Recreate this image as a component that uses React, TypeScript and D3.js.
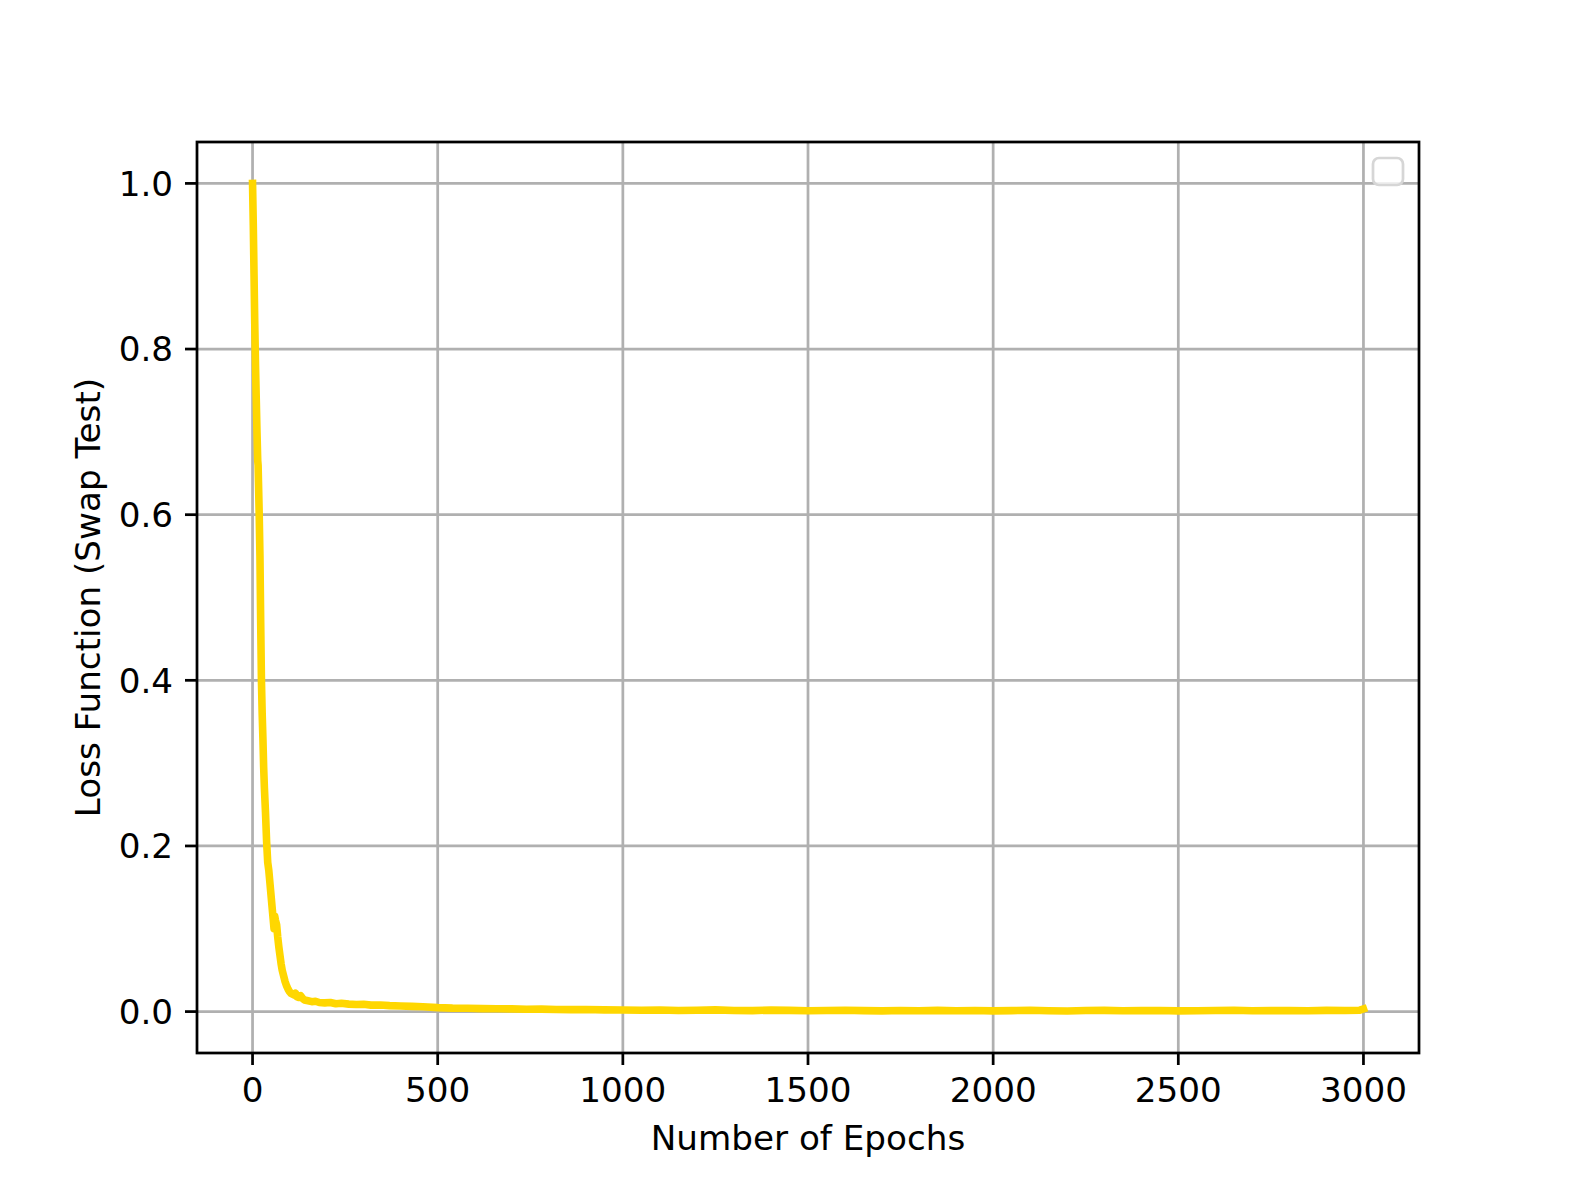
import * as d3 from 'd3';

// loss curve (epoch, swap-test loss)
const epochs = [
  0, 2, 4, 6, 8, 10, 12, 14, 15, 16, 18, 20, 22, 24, 26, 28, 30, 32, 35, 38, 41, 44, 47, 50,
  53, 56, 58, 60, 62, 65, 68, 71, 74, 77, 80, 84, 88, 92, 96, 100, 104, 108, 112, 116, 120,
  125, 130, 135, 140, 150, 160, 170, 180, 195, 210, 225, 240, 260, 280, 300, 320, 345, 370,
  400, 430, 460, 500, 540, 580, 620, 660, 700, 740, 780, 820, 860, 900, 950, 1000, 1050,
  1100, 1150, 1200, 1250, 1300, 1350, 1400, 1450, 1500, 1550, 1600, 1650, 1700, 1750, 1800,
  1850, 1900, 1950, 2000, 2050, 2100, 2150, 2200, 2250, 2300, 2350, 2400, 2450, 2500, 2550,
  2600, 2650, 2700, 2750, 2800, 2850, 2900, 2950, 2990, 3000,
];
const loss = [
  1.0, 0.95, 0.89, 0.83, 0.78, 0.74, 0.7, 0.665, 0.66, 0.64, 0.6, 0.55, 0.47, 0.4, 0.36, 0.33,
  0.295, 0.27, 0.24, 0.205, 0.18, 0.17, 0.155, 0.14, 0.125, 0.11, 0.1, 0.115, 0.11, 0.105,
  0.09, 0.078, 0.068, 0.058, 0.05, 0.043, 0.036, 0.031, 0.027, 0.024, 0.022, 0.021, 0.02,
  0.022, 0.018, 0.017, 0.019, 0.016, 0.014, 0.013, 0.012, 0.0125, 0.011, 0.0105, 0.011,
  0.0095, 0.01, 0.009, 0.0085, 0.0088, 0.0078, 0.008, 0.0072, 0.0068, 0.0063, 0.0058, 0.0048,
  0.0042, 0.004, 0.0036, 0.0034, 0.0033, 0.0029, 0.003, 0.0026, 0.0024, 0.0025, 0.0021, 0.002,
  0.0016, 0.0019, 0.0013, 0.0017, 0.0021, 0.0014, 0.0012, 0.0018, 0.0015, 0.0011, 0.0013,
  0.0016, 0.0012, 0.0009, 0.0014, 0.0011, 0.0015, 0.001, 0.0013, 0.0009, 0.0012, 0.0016,
  0.0011, 0.0008, 0.0013, 0.0015, 0.001, 0.0012, 0.0014, 0.0009, 0.0011, 0.0013, 0.0016,
  0.001, 0.0012, 0.0014, 0.0011, 0.0015, 0.0013, 0.0017, 0.0032,
];

const xTicks = [0, 500, 1000, 1500, 2000, 2500, 3000];
const yTicks = [0.0, 0.2, 0.4, 0.6, 0.8, 1.0];

const W = 1577;
const H = 1183;
const margin = { left: 197, right: 158, top: 142, bottom: 130 };
const font = 'DejaVu Sans, sans-serif';

export default function App() {
  const innerW = W - margin.left - margin.right;
  const innerH = H - margin.top - margin.bottom;
  const x = d3.scaleLinear().domain([-150, 3150]).range([0, innerW]);
  const y = d3.scaleLinear().domain([-0.05, 1.05]).range([innerH, 0]);

  const pts = epochs.map((e, i) => [e, loss[i]] as [number, number]);
  const path = d3
    .line<[number, number]>()
    .x((d) => x(d[0]))
    .y((d) => y(d[1]))(pts);

  const lw = 2.74;

  return (
    <svg
      width={W}
      height={H}
      style={{ position: 'absolute', left: 0, top: 0, display: 'block', background: '#fff' }}
    >
      <defs>
        <clipPath id="plot">
          <rect x={0} y={0} width={innerW} height={innerH} />
        </clipPath>
      </defs>
      <g transform={`translate(${margin.left},${margin.top})`}>
        {/* grid */}
        {xTicks.map((t) => (
          <line key={'gx' + t} x1={x(t)} x2={x(t)} y1={0} y2={innerH} stroke="#b0b0b0" strokeWidth={lw} />
        ))}
        {yTicks.map((t) => (
          <line key={'gy' + t} x1={0} x2={innerW} y1={y(t)} y2={y(t)} stroke="#b0b0b0" strokeWidth={lw} />
        ))}

        <path
          d={path || ''}
          fill="none"
          stroke="#FFD700"
          strokeWidth={7.6}
          strokeLinejoin="round"
          strokeLinecap="square"
          clipPath="url(#plot)"
        />

        {/* empty legend box */}
        <rect x={1176} y={16} width={30} height={27} rx={6} fill="#fff" fillOpacity={0.8} stroke="#d6d6d6" strokeWidth={lw} />

        {/* frame */}
        <rect x={0} y={0} width={innerW} height={innerH} fill="none" stroke="#000" strokeWidth={lw} />

        {/* x axis */}
        {xTicks.map((t) => (
          <g key={'xt' + t} transform={`translate(${x(t)},${innerH})`}>
            <line y1={0} y2={12} stroke="#000" strokeWidth={lw} />
            <text y={49} textAnchor="middle" fontFamily={font} fontSize={34.2} fill="#000">
              {t}
            </text>
          </g>
        ))}
        {/* y axis */}
        {yTicks.map((t) => (
          <g key={'yt' + t} transform={`translate(0,${y(t)})`}>
            <line x1={0} x2={-12} stroke="#000" strokeWidth={lw} />
            <text x={-24} dy="0.36em" textAnchor="end" fontFamily={font} fontSize={34.2} fill="#000">
              {t.toFixed(1)}
            </text>
          </g>
        ))}

        <text
          x={innerW / 2}
          y={innerH + 97}
          textAnchor="middle"
          fontFamily={font}
          fontSize={34.2}
          fill="#000"
        >
          Number of Epochs
        </text>
        <text
          transform={`translate(${100 - margin.left},${innerH / 2}) rotate(-90)`}
          textAnchor="middle"
          fontFamily={font}
          fontSize={34.2}
          fill="#000"
        >
          Loss Function (Swap Test)
        </text>
      </g>
    </svg>
  );
}
